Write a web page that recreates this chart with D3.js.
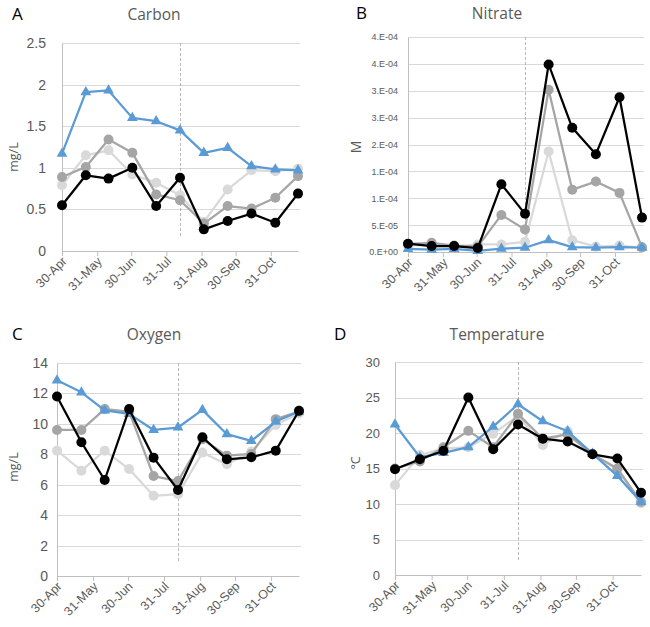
<!DOCTYPE html>
<html>
<head>
<meta charset="utf-8">
<script src="https://cdn.jsdelivr.net/npm/d3@7"></script>
<style>
  body { margin: 0; background: #fff; }
  svg { display: block; font-family: "Open Sans", "Liberation Sans", sans-serif; }
  text { fill: #595959; }
</style>
</head>
<body>
<svg id="chart" width="650" height="627"></svg>
<script>
// sample dates (every ~3 weeks)
const sampleDates = ["2014-04-30", "2014-05-21", "2014-06-10", "2014-07-01", "2014-07-22",
  "2014-08-12", "2014-09-02", "2014-09-23", "2014-10-14", "2014-11-04", "2014-11-24"];
const tickDates = ["2014-04-30", "2014-05-31", "2014-06-30", "2014-07-31", "2014-08-31",
  "2014-09-30", "2014-10-31"];
const markerDate = "2014-08-12";

const carbonBlue  = [1.17, 1.91, 1.93, 1.60, 1.56, 1.45, 1.18, 1.24, 1.02, 0.98, 0.97];
const carbonMid   = [0.89, 1.01, 1.34, 1.18, 0.68, 0.61, 0.33, 0.54, 0.51, 0.64, 0.90];
const carbonLight = [0.79, 1.15, 1.21, 0.92, 0.82, 0.67, 0.35, 0.74, 0.97, 0.96, 0.99];
const carbonBlack = [0.55, 0.91, 0.87, 1.00, 0.54, 0.88, 0.26, 0.36, 0.45, 0.34, 0.69];

const nitrateBlue  = [5.6e-6, 4.3e-6, 5.6e-6, 2e-6, 6.2e-6, 8e-6, 2.2e-5, 9e-6, 8e-6, 9e-6, 8e-6];
const nitrateMid   = [1.5e-5, 1.7e-5, 1.2e-5, 1.0e-5, 6.9e-5, 4.2e-5, 3.02e-4, 1.16e-4, 1.31e-4, 1.10e-4, 9e-6];
const nitrateLight = [1.2e-5, 1.4e-5, 1.0e-5, 1.4e-5, 1.4e-5, 1.9e-5, 1.87e-4, 2.2e-5, 1.0e-5, 1.2e-5, 8e-6];
const nitrateBlack = [1.55e-5, 1.1e-5, 1.1e-5, 7.4e-6, 1.26e-4, 7.1e-5, 3.49e-4, 2.31e-4, 1.82e-4, 2.88e-4, 6.4e-5];

const oxygenBlue  = [12.86, 12.07, 10.88, 10.66, 9.60, 9.76, 10.92, 9.32, 8.88, 10.15, 10.81];
const oxygenMid   = [9.60, 9.60, 10.97, 10.81, 6.57, 6.24, 8.99, 7.91, 8.02, 10.31, 10.81];
const oxygenLight = [8.24, 6.92, 8.24, 7.03, 5.27, 5.38, 8.11, 7.34, 8.18, 9.93, 10.70];
const oxygenBlack = [11.80, 8.79, 6.31, 10.97, 7.78, 5.65, 9.12, 7.67, 7.80, 8.24, 10.86];

const tempBlue  = [21.2, 16.6, 17.2, 18.0, 20.9, 24.05, 21.66, 20.25, 17.1, 13.97, 10.3];
const tempMid   = [15.0, 16.0, 18.0, 20.3, 18.0, 22.7, 19.2, 19.8, 17.0, 15.0, 10.3];
const tempLight = [12.66, 16.9, 17.8, 18.0, 19.9, 22.4, 18.3, 20.25, 17.0, 14.9, 10.1];
const tempBlack = [14.9, 16.3, 17.5, 25.0, 17.7, 21.2, 19.2, 18.8, 17.0, 16.4, 11.6];

const carbonTicks  = [0, 0.5, 1, 1.5, 2, 2.5];
const nitrateTicks = [0, 5e-5, 1e-4, 1.5e-4, 2e-4, 2.5e-4, 3e-4, 3.5e-4, 4e-4];
const oxygenTicks  = [0, 2, 4, 6, 8, 10, 12, 14];
const tempTicks    = [0, 5, 10, 15, 20, 25, 30];

const parseDate = d3.timeParse("%Y-%m-%d");
const fmtTick = d3.timeFormat("%-d-%b");
const colors = { blue: "#5b9bd5", mid: "#a5a5a5", light: "#d9d9d9", black: "#000000" };

// Excel style "0.E+00" format
function sciFmt(v) {
  if (v === 0) return "0.E+00";
  let e = Math.floor(Math.log10(v));
  let m = Math.round(v / Math.pow(10, e));
  if (m >= 10) { m = 1; e += 1; }
  const sign = e < 0 ? "-" : "+";
  return m + ".E" + sign + String(Math.abs(e)).padStart(2, "0");
}

const svg = d3.select("#chart");

const panels = [
  { letter: "A", title: "Carbon", unit: "mg/L", left: 62, right: 298, top: 43, bottom: 251,
    yMax: 2.5, ticks: carbonTicks, fmt: d => String(d), tickSize: 14, pad: 16,
    letterX: 12, titleX: 154, titleY: 20, unitX: 14, unitY: 157,
    data: { blue: carbonBlue, mid: carbonMid, light: carbonLight, black: carbonBlack } },
  { letter: "B", title: "Nitrate", unit: "M", left: 408, right: 642, top: 37, bottom: 252,
    yMax: 4e-4, ticks: nitrateTicks, fmt: sciFmt, tickSize: 9, pad: 10,
    letterX: 356, titleX: 497, titleY: 19, unitX: 356, unitY: 147,
    data: { blue: nitrateBlue, mid: nitrateMid, light: nitrateLight, black: nitrateBlack } },
  { letter: "C", title: "Oxygen", unit: "mg/L", left: 57, right: 299, top: 363, bottom: 576,
    yMax: 14, ticks: oxygenTicks, fmt: d => String(d), tickSize: 14, pad: 9,
    letterX: 12, titleX: 154, titleY: 340, unitX: 14, unitY: 467,
    data: { blue: oxygenBlue, mid: oxygenMid, light: oxygenLight, black: oxygenBlack } },
  { letter: "D", title: "Temperature", unit: "°C", left: 395, right: 641, top: 362, bottom: 575,
    yMax: 30, ticks: tempTicks, fmt: d => String(d), tickSize: 13, pad: 15,
    letterX: 334, titleX: 497, titleY: 340, unitX: 356, unitY: 463,
    data: { blue: tempBlue, mid: tempMid, light: tempLight, black: tempBlack } }
];

const dates = sampleDates.map(parseDate);

panels.forEach(p => {
  const x = d3.scaleTime()
    .domain([dates[0], dates[dates.length - 1]])
    .range([p.left, p.right]);
  const y = d3.scaleLinear().domain([0, p.yMax]).range([p.bottom, p.top]);
  const g = svg.append("g");

  // gridlines
  g.selectAll(".grid").data(p.ticks.filter(t => t > 0)).enter().append("line")
    .attr("x1", p.left).attr("x2", p.right + 2)
    .attr("y1", d => Math.round(y(d)) + 0.5).attr("y2", d => Math.round(y(d)) + 0.5)
    .attr("stroke", "#d9d9d9").attr("stroke-width", 1);

  // y axis
  const yAxis = g.append("g")
    .attr("transform", `translate(${p.left},0)`)
    .call(d3.axisLeft(y).tickValues(p.ticks).tickFormat(p.fmt).tickSize(0).tickPadding(p.pad));
  yAxis.select(".domain").attr("stroke", "#bfbfbf");
  yAxis.selectAll("text").style("font-size", p.tickSize + "px").attr("fill", "#595959");

  // x axis
  const xAxis = g.append("g")
    .attr("transform", `translate(0,${p.bottom})`)
    .call(d3.axisBottom(x).tickValues(tickDates.map(parseDate)).tickFormat(fmtTick).tickSize(5).tickSizeOuter(0));
  xAxis.select(".domain").attr("stroke", "#bfbfbf");
  xAxis.selectAll(".tick line").attr("stroke", "#bfbfbf");
  xAxis.selectAll("text")
    .style("font-size", "12.5px").attr("fill", "#595959")
    .attr("text-anchor", "end")
    .attr("dy", null).attr("y", 0)
    .attr("transform", "translate(5,11) rotate(-45)");

  // dashed marker line
  const mx = Math.round(x(parseDate(markerDate))) + 0.5;
  g.append("line")
    .attr("x1", mx).attr("x2", mx)
    .attr("y1", p.top).attr("y2", p.bottom - 13)
    .attr("stroke", "#a6a6a6").attr("stroke-width", 0.8).attr("stroke-dasharray", "3,2");

  // series (light, mid first, then blue, black on top)
  ["light", "mid", "blue", "black"].forEach(name => {
    const vals = p.data[name];
    const pts = vals.map((v, i) => ({ date: dates[i], v }));
    g.append("path").datum(pts)
      .attr("fill", "none").attr("stroke", colors[name]).attr("stroke-width", 2.25)
      .attr("stroke-linejoin", "round")
      .attr("d", d3.line().x(d => x(d.date)).y(d => y(d.v)));
    if (name === "blue") {
      g.selectAll(".tri-" + p.letter).data(pts).enter().append("path")
        .attr("transform", d => `translate(${x(d.date)},${y(d.v)})`)
        .attr("d", d3.symbol(d3.symbolTriangle, 50))
        .attr("fill", colors[name]);
    } else {
      g.selectAll(".dot-" + name + p.letter).data(pts).enter().append("circle")
        .attr("cx", d => x(d.date)).attr("cy", d => y(d.v)).attr("r", 5)
        .attr("fill", colors[name]);
    }
  });

  // labels
  g.append("text").attr("x", p.letterX).attr("y", p.titleY)
    .style("font-size", "17px").style("fill", "#000").text(p.letter);
  g.append("text").attr("x", p.titleX).attr("y", p.titleY)
    .attr("text-anchor", "middle").style("font-size", "15.5px").text(p.title);
  g.append("text")
    .attr("transform", `translate(${p.unitX},${p.unitY}) rotate(-90)`)
    .attr("text-anchor", "middle").attr("dy", "0.35em")
    .style("font-size", p.unit === "M" ? "14px" : "12.5px").text(p.unit);
});
</script>
</body>
</html>
